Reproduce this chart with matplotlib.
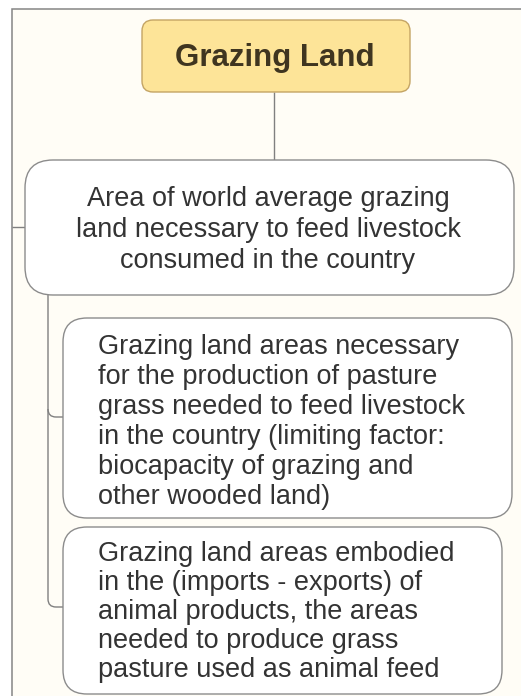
import matplotlib.pyplot as plt
from matplotlib.patches import FancyBboxPatch, Rectangle, PathPatch
from matplotlib.path import Path

# diagram content
title = "Grazing Land"
main_lines = [
    "Area of world average grazing",
    "land necessary to feed livestock",
    "consumed in the country",
]
sub1_lines = [
    "Grazing land areas necessary",
    "for the production of pasture",
    "grass needed to feed livestock",
    "in the country (limiting factor:",
    "biocapacity of grazing and",
    "other wooded land)",
]
sub2_lines = [
    "Grazing land areas embodied",
    "in the (imports - exports) of",
    "animal products, the areas",
    "needed to produce grass",
    "pasture used as animal feed",
]

W, H = 521, 696
fig = plt.figure(figsize=(W / 100, H / 100), dpi=100)
ax = fig.add_axes([0, 0, 1, 1])
ax.set_xlim(0, W)
ax.set_ylim(H, 0)
ax.axis("off")

font = "Liberation Sans"
txt_col = "#333333"
edge_col = "#8c8c8c"
link_col = "#808080"

# outer frame
ax.add_patch(Rectangle((12, 9), 600, 800, facecolor="#fffdf6", edgecolor="#858585", lw=1.1))


def box(x0, y0, x1, y1, r, fc, ec):
    ax.add_patch(FancyBboxPatch((x0, y0), x1 - x0, y1 - y0,
                                boxstyle=f"round,pad=0,rounding_size={r}",
                                facecolor=fc, edgecolor=ec, lw=1.0, zorder=3))


def line(pts, codes=None):
    p = Path(pts, codes)
    ax.add_patch(PathPatch(p, facecolor="none", edgecolor=link_col, lw=1.0, zorder=2))


# connectors
line([(274, 92), (274, 160)])
line([(12, 227), (25, 227)])
C = [Path.MOVETO, Path.LINETO, Path.CURVE3, Path.CURVE3, Path.LINETO]
line([(48, 294), (48, 409), (48, 417), (56, 417), (63, 417)], C)
line([(48, 409), (48, 599), (48, 607), (56, 607), (63, 607)], C)

# boxes
box(142, 20, 410, 92, 11, "#fde498", "#c4a464")
box(25, 160, 514, 295, 28, "white", edge_col)
box(63, 318, 512, 518, 24, "white", edge_col)
box(63, 527, 502, 694, 24, "white", edge_col)

ax.text(275, 66, title, ha="center", va="baseline", fontsize=22.5,
        fontweight="bold", family=font, color="#3f3520", zorder=4)

for i, s in enumerate(main_lines):
    ax.text(268, 206 + i * 31, s, ha="center", va="baseline", fontsize=19.5,
            family=font, color=txt_col, zorder=4)

for i, s in enumerate(sub1_lines):
    ax.text(98, 354 + i * 30, s, ha="left", va="baseline", fontsize=19.5,
            family=font, color=txt_col, zorder=4)

for i, s in enumerate(sub2_lines):
    ax.text(98, 561 + i * 29, s, ha="left", va="baseline", fontsize=19.5,
            family=font, color=txt_col, zorder=4)

fig.savefig("out.png", dpi=100)
